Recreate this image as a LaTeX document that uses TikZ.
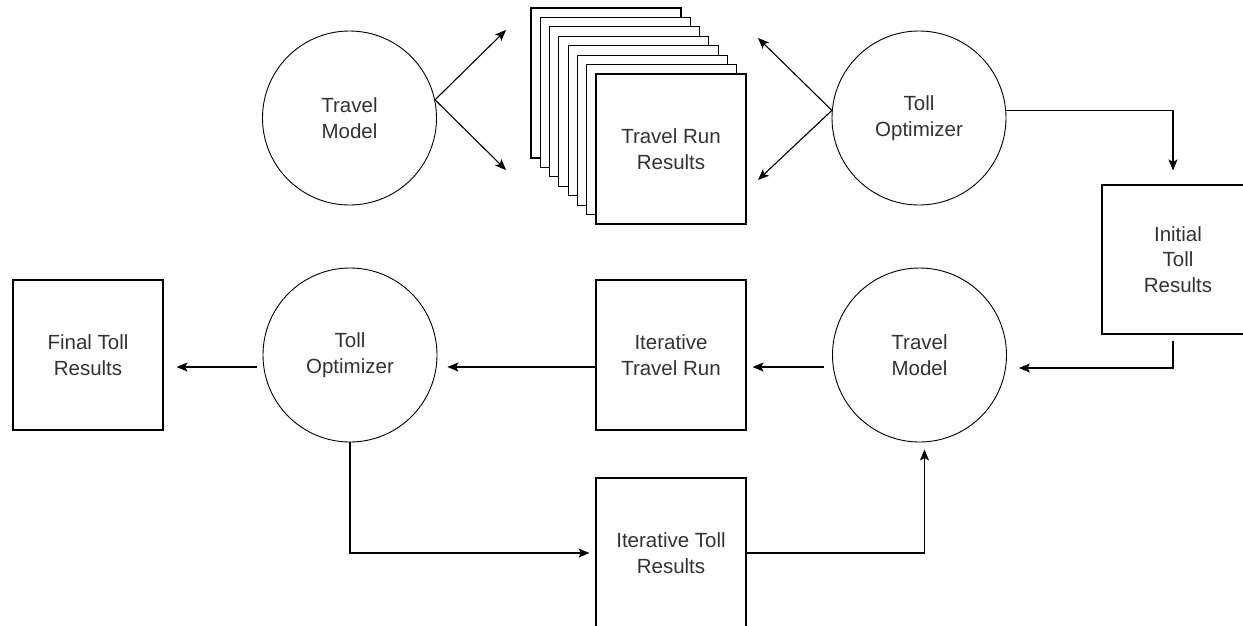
\documentclass[tikz,border=0pt]{standalone}
\usepackage{fontspec}
\setmainfont{Liberation Sans}
\usetikzlibrary{arrows.meta}
\tikzset{
  txt/.style={font=\fontsize{20.5}{25.5}\selectfont, text=black!80, align=center},
  circ/.style={txt, circle, draw, line width=0.9pt, minimum size=174pt, inner sep=0pt},
  box/.style={txt, rectangle, draw, line width=1.1pt, minimum width=150pt, minimum height=150pt, inner sep=0pt, fill=white},
  arr/.style={line width=1.1pt, -{Stealth[length=11pt,width=9pt,inset=2.5pt]}}
}
\begin{document}
\begin{tikzpicture}[x=1pt,y=-1pt]
\clip (0,0) rectangle (1243,625);
\fill[white] (0,0) rectangle (1243,625);

% top row
\node[circ] (tm1) at (349.5,118) {Travel\\Model};
\foreach \i in {7,...,1} {
  \node[box] (s\i) at ({671-9.29*\i},{149-9.43*\i}) {};
}
\node[box] (runs) at (671,149) {Travel Run\\Results};
\node[circ] (to1) at (919,118) {Toll\\Optimizer};
\node[box, minimum width=152pt, minimum height=149pt] (init) at (1178,259.5) {Initial\\Toll\\Results};

% middle row
\node[box] (final) at (88,355) {Final Toll\\Results};
\node[circ] (to2) at (350,355) {Toll\\Optimizer};
\node[box] (itr) at (671,355) {Iterative\\Travel Run};
\node[circ] (tm2) at (919.5,355) {Travel\\Model};

% bottom
\node[box] (itoll) at (671,553) {Iterative Toll\\Results};

% free arrow ends
\coordinate (a1) at (506,30);
\coordinate (a2) at (506,170);
\coordinate (b1) at (758,38);
\coordinate (b2) at (758,180);

\draw[arr] (tm1.12) -- (a1);
\draw[arr] (tm1.12) -- (a2);
\draw[arr] (to1.175) -- (b1);
\draw[arr] (to1.175) -- (b2);

\draw[arr, shorten >=14pt] (to1.5) -| ([xshift=-5pt]init.north);
\draw[arr, shorten <=6pt, shorten >=12pt] ([xshift=-5pt]init.south) |- ([yshift=-13pt]tm2.east);
\draw[arr, shorten <=8pt, shorten >=6pt] ([yshift=-12pt]tm2.west) -- ([yshift=-12pt]itr.east);
\draw[arr, shorten >=10pt] ([yshift=-12pt]itr.west) -- ([yshift=-12pt]to2.east);
\draw[arr, shorten <=6pt, shorten >=13pt] ([yshift=-12pt]to2.west) -- ([yshift=-12pt]final.east);
\draw[arr, shorten >=6pt] (to2.south) |- (itoll.west);
\draw[arr, shorten >=7pt] (itoll.east) -| ([xshift=5pt]tm2.south);
\end{tikzpicture}
\end{document}
